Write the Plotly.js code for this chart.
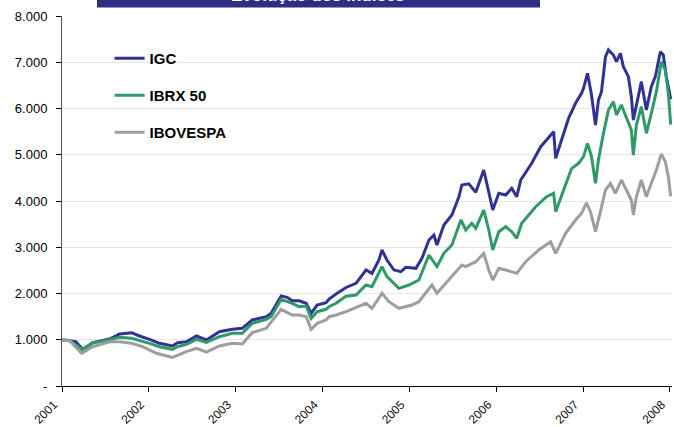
<!DOCTYPE html>
<html>
<head>
<meta charset="utf-8">
<script src="https://cdn.plot.ly/plotly-3.0.1.min.js"></script>
<style>html,body{margin:0;padding:0;background:#fff}#chart{width:674px;height:427px}</style>
</head>
<body>
<div id="chart"></div>
<script>
var seriesNames = ["IGC", "IBRX 50", "IBOVESPA"];
var seriesColors = ["#303393", "#2F9A68", "#9E9E9E"];

var igcX = [2001.00,2001.09,2001.16,2001.238,2001.353,2001.548,2001.663,2001.801,2001.893,2002.008,2002.123,2002.272,2002.330,2002.433,2002.548,2002.663,2002.812,2002.961,2003.076,2003.191,2003.352,2003.409,2003.524,2003.593,2003.651,2003.731,2003.812,2003.869,2003.938,2004.041,2004.076,2004.156,2004.271,2004.386,2004.501,2004.570,2004.650,2004.685,2004.742,2004.823,2004.903,2004.960,2005.076,2005.145,2005.226,2005.283,2005.318,2005.398,2005.490,2005.571,2005.605,2005.685,2005.765,2005.857,2005.915,2005.961,2006.030,2006.110,2006.179,2006.237,2006.283,2006.409,2006.513,2006.581,2006.662,2006.685,2006.754,2006.834,2006.914,2006.949,2006.983,2007.006,2007.052,2007.098,2007.144,2007.178,2007.213,2007.259,2007.293,2007.350,2007.385,2007.431,2007.465,2007.523,2007.557,2007.580,2007.615,2007.672,2007.730,2007.787,2007.833,2007.891,2007.925,2007.960,2008.01];
var igcY = [1000,985,960,790,936,1016,1124,1152,1081,1010,923,865,936,958,1081,995,1174,1226,1247,1427,1498,1572,1946,1917,1844,1844,1788,1572,1751,1801,1880,1989,2130,2220,2508,2436,2724,2940,2724,2508,2472,2566,2544,2760,3157,3265,3049,3481,3697,4093,4346,4370,4190,4670,4166,3805,4166,4130,4274,4093,4454,4815,5174,5319,5499,4923,5319,5790,6112,6220,6328,6436,6761,6292,5643,6184,6364,7120,7265,7157,7012,7193,6904,6688,6256,5751,6039,6580,5967,6472,6688,7228,7157,6688,6200];

var ibrxX = [2001.00,2001.09,2001.238,2001.353,2001.548,2001.663,2001.801,2001.893,2002.008,2002.123,2002.272,2002.330,2002.433,2002.548,2002.663,2002.812,2002.961,2003.076,2003.191,2003.352,2003.409,2003.524,2003.593,2003.651,2003.731,2003.812,2003.869,2003.938,2004.041,2004.076,2004.156,2004.271,2004.386,2004.501,2004.570,2004.685,2004.742,2004.880,2004.995,2005.110,2005.226,2005.318,2005.398,2005.490,2005.594,2005.650,2005.719,2005.765,2005.857,2005.915,2005.961,2006.030,2006.110,2006.179,2006.237,2006.294,2006.455,2006.581,2006.662,2006.685,2006.777,2006.868,2006.949,2006.983,2007.006,2007.052,2007.098,2007.144,2007.178,2007.236,2007.293,2007.350,2007.385,2007.442,2007.500,2007.557,2007.580,2007.615,2007.672,2007.730,2007.787,2007.845,2007.902,2007.948,2007.983,2008.01];
var ibrxY = [1000,985,780,930,1000,1053,1031,990,923,850,793,850,901,1010,945,1066,1139,1139,1355,1441,1500,1874,1830,1788,1715,1730,1463,1607,1658,1715,1788,1940,1968,2184,2148,2580,2364,2112,2184,2292,2832,2580,2869,3049,3589,3373,3518,3410,3805,3373,2940,3336,3445,3336,3193,3518,3877,4093,4166,3769,4238,4700,4815,4886,4958,5247,4958,4382,4886,5464,5967,6147,5859,6075,5823,5535,4994,5643,6039,5464,5896,6364,7012,6832,6328,5650];

var ibovX = [2001.00,2001.09,2001.226,2001.353,2001.548,2001.663,2001.801,2001.927,2002.088,2002.272,2002.433,2002.548,2002.663,2002.812,2002.961,2003.076,2003.191,2003.352,2003.524,2003.651,2003.731,2003.812,2003.869,2003.938,2004.041,2004.076,2004.156,2004.271,2004.501,2004.570,2004.685,2004.765,2004.880,2005.030,2005.110,2005.260,2005.318,2005.456,2005.605,2005.650,2005.685,2005.765,2005.857,2005.915,2005.961,2006.030,2006.110,2006.237,2006.340,2006.490,2006.627,2006.685,2006.800,2006.914,2006.983,2007.040,2007.086,2007.144,2007.201,2007.259,2007.316,2007.373,2007.442,2007.500,2007.557,2007.580,2007.615,2007.672,2007.730,2007.787,2007.845,2007.902,2007.948,2007.983,2008.01];
var ibovY = [1000,975,707,850,958,958,923,850,707,620,742,815,735,865,923,908,1153,1247,1658,1535,1535,1500,1226,1355,1427,1499,1535,1607,1788,1680,2004,1823,1680,1751,1823,2184,2004,2292,2616,2580,2616,2688,2869,2508,2292,2544,2508,2436,2688,2940,3120,2869,3301,3589,3734,3960,3769,3336,3769,4238,4382,4166,4454,4238,4022,3697,4093,4454,4093,4382,4670,5020,4850,4525,4100];

var yTickVals = [0,1000,2000,3000,4000,5000,6000,7000,8000];
var yTickText = ["-","1.000","2.000","3.000","4.000","5.000","6.000","7.000","8.000"];
var xTickVals = [2001,2002,2003,2004,2005,2006,2007,2008];
var xTickText = ["2001","2002","2003","2004","2005","2006","2007","2008"];
var bannerTitle = "Evolução dos Índices";

var xs = [igcX, ibrxX, ibovX];
var ys = [igcY, ibrxY, ibovY];
var traces = seriesNames.map(function(n, i){
  return {x: xs[i], y: ys[i], type: 'scatter', mode: 'lines', name: n,
          legendgroup: 'g'+i,
          line: {color: seriesColors[i], width: 3}};
});

var font = 'Liberation Sans, Arial, sans-serif';
var layout = {
  width: 674, height: 427,
  margin: {l: 62, r: 2, t: 16, b: 41},
  paper_bgcolor: '#fff', plot_bgcolor: '#fff',
  font: {family: font, color: '#000', size: 12},
  showlegend: true,
  legend: {x: 0.078, y: 0.93, xanchor: 'left', yanchor: 'top',
           bgcolor: 'rgba(0,0,0,0)', borderwidth: 0,
           traceorder: 'grouped', tracegroupgap: 14.5,
           font: {family: font, size: 15, color: '#000', weight: 'bold'}},
  xaxis: {type: 'linear', range: [2001, 2008.025], tickvals: xTickVals, ticktext: xTickText,
          tickangle: -45, ticks: 'outside', ticklen: 5, tickcolor: '#000',
          ticklabelstandoff: 1, ticklabelshift: -8, ticklabeloverflow: 'allow',
          showline: true, linecolor: '#000', linewidth: 1, showgrid: false, zeroline: false,
          tickfont: {family: font, size: 12, color: '#111'}},
  yaxis: {range: [0, 8000], tickvals: yTickVals, ticktext: yTickText,
          ticks: 'outside', ticklen: 5, tickcolor: '#000', ticklabelstandoff: 6,
          showline: true, linecolor: '#555', linewidth: 1,
          showgrid: true, gridcolor: '#E6E6E6', gridwidth: 1, zeroline: false,
          tickfont: {family: font, size: 13, color: '#000'}},
  shapes: [
    {type: 'rect', xref: 'paper', yref: 'paper', x0: 0.039, x1: 0.343, y0: 0.64, y1: 0.96,
     fillcolor: '#fff', line: {width: 0}, layer: 'between'},
    {type: 'rect', xref: 'paper', yref: 'paper', x0: (97-62)/610, x1: (540-62)/610,
     y0: (386-7.5)/370, y1: (386+5)/370, fillcolor: '#2E2E86', line: {width: 0}, layer: 'above'}
  ],
  annotations: [
    {text: bannerTitle, xref: 'paper', yref: 'paper', x: (318-62)/610, y: (386-6.6)/370,
     xanchor: 'center', yanchor: 'bottom', showarrow: false,
     font: {family: font, size: 17, color: '#fff', weight: 'bold'}}
  ]
};
Plotly.newPlot('chart', traces, layout, {displayModeBar: false, staticPlot: true});
</script>
</body>
</html>
